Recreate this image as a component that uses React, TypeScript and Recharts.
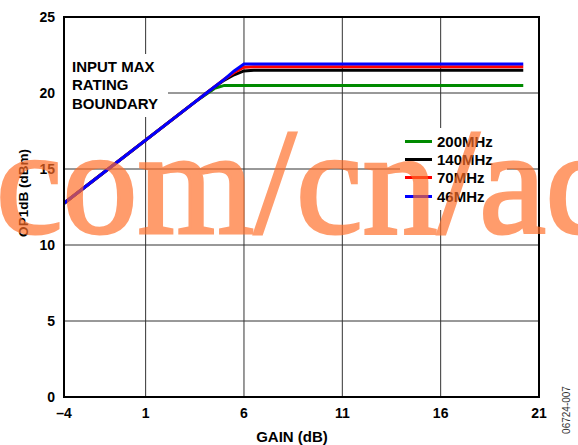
import React from "react";
import {
  LineChart,
  Line,
  XAxis,
  YAxis,
  CartesianGrid,
  ReferenceArea,
} from "recharts";

// gain points (dB); left edge of the plot sits at about -3.15 dB
const gains = [-3.15, 3.5, 4, 4.5, 5, 5.5, 6, 6.5, 20.2];

// OP1dB (dBm) per frequency
const op46 = [12.75, 19.4, 19.9, 20.4, 20.9, 21.45, 21.9, 21.9, 21.9];
const op70 = [12.75, 19.4, 19.9, 20.4, 20.9, 21.35, 21.7, 21.73, 21.73];
const op140 = [12.75, 19.4, 19.9, 20.4, 20.85, 21.2, 21.45, 21.5, 21.5];
const op200 = [12.75, 19.4, 19.85, 20.3, 20.5, 20.5, 20.5, 20.5, 20.5];

const xTicks = [-3.15, 1, 6, 11, 16, 21];
const xTickLabels = ["–4", "1", "6", "11", "16", "21"];
const yTicks = [0, 5, 10, 15, 20, 25];

const seriesInfo = [
  { key: "f200", name: "200MHz", color: "#008a00" },
  { key: "f140", name: "140MHz", color: "#000000" },
  { key: "f70", name: "70MHz", color: "#ff0000" },
  { key: "f46", name: "46MHz", color: "#0000ff" },
];

const data = gains.map((g, i) => ({
  gain: g,
  f46: op46[i],
  f70: op70[i],
  f140: op140[i],
  f200: op200[i],
}));

const font = '"Liberation Sans", Arial, sans-serif';

export default function App() {
  return (
    <div
      style={{
        position: "absolute",
        left: 0,
        top: 0,
        width: 578,
        height: 445,
        background: "#fff",
        fontFamily: font,
        overflow: "hidden",
      }}
    >
      <LineChart
        width={578}
        height={445}
        data={data}
        margin={{ top: 17, right: 39, bottom: 18, left: 24 }}
      >
        <CartesianGrid stroke="#333" strokeWidth={1} />
        <XAxis
          dataKey="gain"
          type="number"
          domain={[-3.15, 21]}
          ticks={xTicks}
          tickFormatter={(v: number) => xTickLabels[xTicks.indexOf(v)] ?? String(v)}
          allowDataOverflow
          height={30}
          tickSize={0}
          tickMargin={11}
          axisLine={{ stroke: "#000", strokeWidth: 2 }}
          tick={{ fontSize: 14, fontWeight: 700, fill: "#000", fontFamily: font }}
        />
        <YAxis
          type="number"
          domain={[0, 25]}
          ticks={yTicks}
          width={40}
          tickSize={0}
          tickMargin={9}
          axisLine={{ stroke: "#000", strokeWidth: 2 }}
          tick={{ fontSize: 14, fontWeight: 700, fill: "#000", fontFamily: font }}
        />
        <ReferenceArea
          x1={-3.15}
          x2={21}
          y1={0}
          y2={25}
          fill="none"
          stroke="#000"
          strokeWidth={2}
        />
        {seriesInfo.map((s) => (
          <Line
            key={s.key}
            dataKey={s.key}
            stroke={s.color}
            strokeWidth={3}
            dot={false}
            type="linear"
            isAnimationActive={false}
          />
        ))}
      </LineChart>

      {/* boundary annotation */}
      <div
        style={{
          position: "absolute",
          left: 65,
          top: 54,
          width: 103,
          height: 63,
          background: "#fff",
          fontSize: 15,
          fontWeight: 700,
          lineHeight: "18.3px",
          paddingLeft: 7,
          paddingTop: 4,
          boxSizing: "border-box",
        }}
      >
        INPUT MAX
        <br />
        RATING
        <br />
        BOUNDARY
      </div>

      {/* legend */}
      <div
        style={{
          position: "absolute",
          left: 400,
          top: 128,
          width: 107,
          height: 82,
          background: "#fff",
          paddingTop: 4,
          boxSizing: "border-box",
        }}
      >
        {seriesInfo.map((s) => (
          <div
            key={s.key}
            style={{
              display: "flex",
              alignItems: "center",
              height: 18.3,
              fontSize: 15,
              fontWeight: 700,
            }}
          >
            <div
              style={{
                width: 27,
                height: 3,
                background: s.color,
                marginLeft: 5,
                marginRight: 5,
              }}
            />
            {s.name}
          </div>
        ))}
      </div>

      {/* axis titles */}
      <div
        style={{
          position: "absolute",
          left: 23,
          top: 193,
          transform: "translate(-50%, -50%) rotate(-90deg)",
          whiteSpace: "nowrap",
          fontSize: 13.5,
          fontWeight: 700,
        }}
      >
        OP1dB (dBm)
      </div>
      <div
        style={{
          position: "absolute",
          left: 292,
          top: 436,
          transform: "translate(-50%, -50%)",
          whiteSpace: "nowrap",
          fontSize: 15,
          fontWeight: 700,
        }}
      >
        GAIN (dB)
      </div>
      <div
        style={{
          position: "absolute",
          left: 566,
          top: 410,
          transform: "translate(-50%, -50%) rotate(-90deg)",
          whiteSpace: "nowrap",
          fontSize: 10,
          color: "#333",
        }}
      >
        06724-007
      </div>

      {/* watermark */}
      <div
        style={{
          position: "absolute",
          left: -4,
          top: 107,
          whiteSpace: "nowrap",
          fontFamily: '"Liberation Serif", "DejaVu Serif", serif',
          fontSize: 150,
          fontWeight: 400,
          lineHeight: "150px",
          color: "rgb(255, 110, 40)",
          WebkitTextStroke: "3px rgb(255, 110, 40)",
          opacity: 0.68,
          pointerEvents: "none",
        }}
      >
        com/cn/ad
      </div>
    </div>
  );
}
